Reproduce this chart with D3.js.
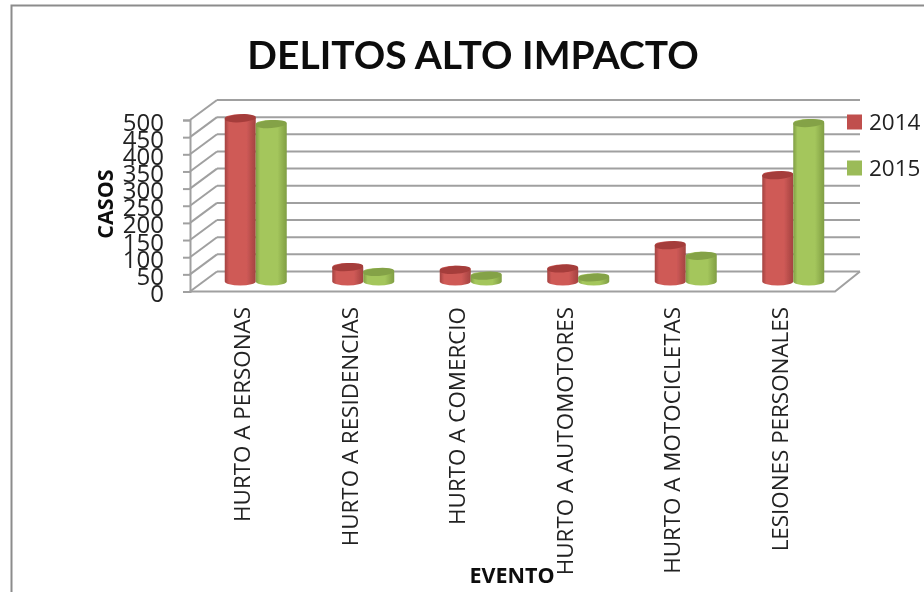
<!DOCTYPE html>
<html>
<head>
<meta charset="utf-8">
<script src="https://cdn.jsdelivr.net/npm/d3@7"></script>
<style>
  html, body { margin: 0; padding: 0; background: #fff; }
  svg { display: block; }
  text { font-family: "Open Sans", sans-serif; fill: #222; }
</style>
</head>
<body>
<svg id="chart" width="924" height="592"></svg>
<script>
const categories = ['HURTO A PERSONAS', 'HURTO A RESIDENCIAS', 'HURTO A COMERCIO', 'HURTO A AUTOMOTORES', 'HURTO A MOTOCICLETAS', 'LESIONES PERSONALES']
const years = ['2014', '2015']
const values2014 = [476, 42, 34, 38, 106, 310]
const values2015 = [459, 28, 17, 12, 75, 462]
const yTicks = [0, 50, 100, 150, 200, 250, 300, 350, 400, 450, 500]

// colors: edge, middle, top
const colorRed = ['#a34240', '#cf5a57', '#a53c3a']
const colorGreen = ['#809e44', '#a4c65c', '#84a247']
const colorGrid = '#a0a0a0'

// depth of the fake 3d floor
const depthX = 27
const depthY = -20

const svg = d3.select('#chart')
const y = d3.scaleLinear().domain([0, 500]).range([291.5, 120])
const x = d3.scaleBand().domain(categories).range([202, 847])

const defs = svg.append('defs')
function gradient(id, c) {
  const g = defs.append('linearGradient').attr('id', id)
  g.append('stop').attr('offset', '0%').attr('stop-color', c[0])
  g.append('stop').attr('offset', '14%').attr('stop-color', c[1])
  g.append('stop').attr('offset', '70%').attr('stop-color', c[1])
  g.append('stop').attr('offset', '100%').attr('stop-color', c[0])
}
gradient('gradRed', colorRed)
gradient('gradGreen', colorGreen)
defs.append('filter').attr('id', 'soft')
  .append('feGaussianBlur').attr('stdDeviation', 0.45)

const root = svg.append('g').attr('filter', 'url(#soft)')

// frame
root.append('path')
  .attr('d', 'M11.5,592V5.5H924')
  .attr('fill', 'none')
  .attr('stroke', '#8c8c8c')
  .attr('stroke-width', 2)

// title
root.append('text')
  .attr('x', 473).attr('y', 69)
  .attr('text-anchor', 'middle')
  .style('font-family', 'Lato, sans-serif')
  .style('font-weight', 700)
  .style('font-size', '39px')
  .style('fill', '#111')
  .text('DELITOS ALTO IMPACTO')

// back wall grid and side wall
const x0 = 190
const x1 = 835
const grid = root.append('g')
  .attr('stroke', colorGrid)
  .attr('stroke-width', 2)
  .attr('fill', 'none')
grid.selectAll('line.back').data(yTicks).join('line')
  .attr('class', 'back')
  .attr('x1', x0 + depthX).attr('x2', x1 + depthX - 2)
  .attr('y1', (d) => y(d) + depthY).attr('y2', (d) => y(d) + depthY)
grid.selectAll('line.side').data(yTicks).join('line')
  .attr('class', 'side')
  .attr('x1', x0).attr('x2', x0 + depthX)
  .attr('y1', (d) => y(d)).attr('y2', (d) => y(d) + depthY)
// floor edges
grid.append('path')
  .attr('d', `M${x0},${y(0)}H${x1}L${x1 + depthX - 2},${y(0) + depthY}`)

// y axis, labels pushed right up against the ticks
const yAxis = root.append('g')
  .attr('transform', `translate(${x0},0)`)
  .call(d3.axisLeft(y).tickValues(yTicks).tickSize(7).tickPadding(19).tickFormat(d3.format('d')))
yAxis.selectAll('line, path').attr('stroke', colorGrid).attr('stroke-width', 2)
yAxis.selectAll('text')
  .attr('dy', '0.42em')
  .style('font-size', '24px')
  .style('font-family', '"Open Sans", sans-serif')

// cylinders
const rx = 15.5
const ry = 4
const mid = { x: depthX / 2 - 13.5, y: depthY / 2 }
function cylinder(cx, top, bottom) {
  return `M${cx - rx},${top}V${bottom}A${rx},${ry} 0 0 0 ${cx + rx},${bottom}V${top}A${rx},${ry} 0 0 0 ${cx - rx},${top}Z`
}
function drawSeries(values, offset, gradId, c) {
  const g = root.append('g')
  const bars = g.selectAll('g').data(values).join('g')
  bars.append('path')
    .attr('d', (d, i) => {
      const cx = x(categories[i]) + x.bandwidth() / 2 + offset + mid.x
      return cylinder(cx, y(d) + mid.y, y(0) + mid.y)
    })
    .attr('fill', `url(#${gradId})`)
  bars.append('ellipse')
    .attr('transform', (d, i) => {
      const cx = x(categories[i]) + x.bandwidth() / 2 + offset + mid.x
      return `translate(${cx},${y(d) + mid.y}) rotate(-4)`
    })
    .attr('rx', rx).attr('ry', ry)
    .attr('fill', c[2])
}
drawSeries(values2014, -15.5, 'gradRed', colorRed)
drawSeries(values2015, 15.5, 'gradGreen', colorGreen)

// category labels
root.append('g').selectAll('text').data(categories).join('text')
  .attr('transform', (d) => `translate(${x(d) + x.bandwidth() / 2 - 13.5},307) rotate(-90)`)
  .attr('text-anchor', 'end')
  .attr('dy', '0.36em')
  .style('font-size', '22.4px')
  .text((d) => d)

// axis titles
root.append('text')
  .attr('transform', 'translate(105,204) rotate(-90)')
  .attr('text-anchor', 'middle')
  .attr('dy', '0.36em')
  .style('font-size', '21.5px')
  .style('font-weight', 700)
  .style('fill', '#111')
  .text('CASOS')
root.append('text')
  .attr('x', 512).attr('y', 575)
  .attr('text-anchor', 'middle')
  .attr('dy', '0.36em')
  .style('font-size', '21.5px')
  .style('font-weight', 700)
  .style('fill', '#111')
  .text('EVENTO')

// legend
const legendY = d3.scalePoint().domain(years).range([122, 168])
const legendColor = d3.scaleOrdinal().domain(years).range(['#c0504d', '#9bbb59'])
const legend = root.append('g').selectAll('g').data(years).join('g')
  .attr('transform', (d) => `translate(847,${legendY(d)})`)
legend.append('rect')
  .attr('y', -7.5).attr('width', 15).attr('height', 15)
  .attr('fill', (d) => legendColor(d))
legend.append('text')
  .attr('x', 22).attr('dy', '0.36em')
  .style('font-size', '22.5px')
  .text((d) => d)
</script>
</body>
</html>
